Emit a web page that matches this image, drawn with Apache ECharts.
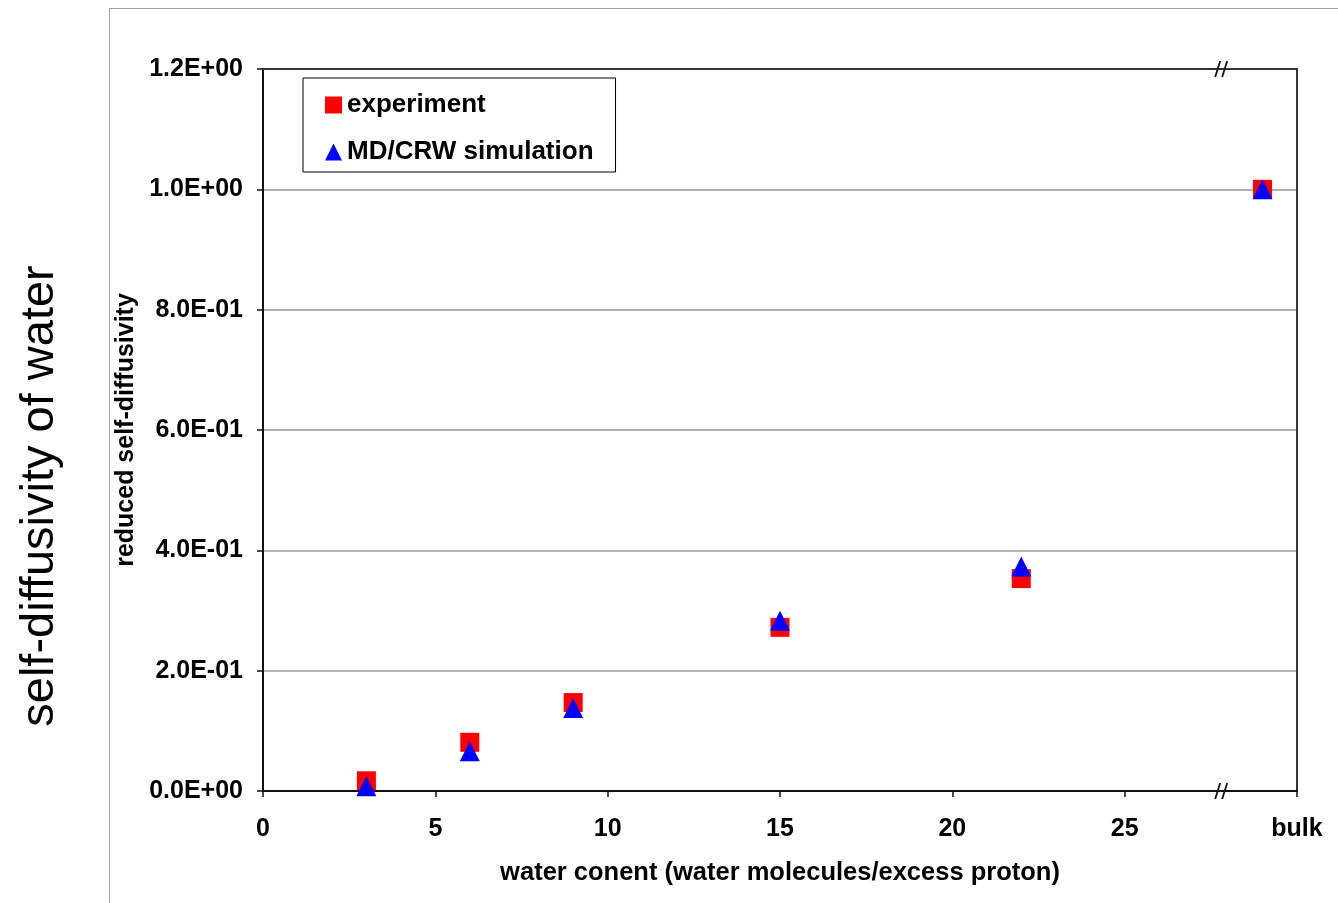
<!DOCTYPE html>
<html>
<head>
<meta charset="utf-8">
<script src="https://cdn.jsdelivr.net/npm/echarts@6/dist/echarts.min.js"></script>
<style>
html,body{margin:0;padding:0;background:#fff;}
#c{width:1338px;height:903px;}
</style>
</head>
<body>
<div id="c"></div>
<script>
// ---- data ----
const waterContent = [3, 6, 9, 15, 22, 29];          // 29 = "bulk" position
const experiment   = [0.017, 0.081, 0.147, 0.272, 0.353, 1.0];
const simulation   = [0.008, 0.066, 0.138, 0.283, 0.373, 1.0];
const xTickValues  = [0, 5, 10, 15, 20, 25, 30];
const xTickLabels  = ['0', '5', '10', '15', '20', '25', 'bulk'];
const seriesNames  = ['experiment', 'MD/CRW simulation'];
const xAxisTitle   = 'water conent (water molecules/excess proton)';
const yAxisTitle   = 'reduced self-diffusivity';
const sideTitle    = 'self-diffusivity of water';
const breakAt      = 27.8;

const FONT = '"Liberation Sans", Arial, sans-serif';

function sci(v) {
  if (Math.abs(v) < 1e-12) return '0.0E+00';
  let e = Math.floor(Math.log10(v) + 1e-9);
  let m = v / Math.pow(10, e);
  if (m >= 9.95) { m /= 10; e += 1; }
  return m.toFixed(1) + 'E' + (e < 0 ? '-' : '+') + String(Math.abs(e)).padStart(2, '0');
}

const chart = echarts.init(document.getElementById('c'), null, {renderer: 'canvas'});

const labelStyle = {color: '#000', fontFamily: FONT, fontWeight: 'bold', fontSize: 25};

chart.setOption({
  animation: false,
  backgroundColor: '#fff',
  grid: {left: 263, right: 41, top: 69, bottom: 112, containLabel: false},
  legend: {
    orient: 'vertical',
    left: 303, top: 78,
    borderColor: '#000', borderWidth: 1,
    padding: [14, 22, 7, 22],
    itemGap: 21,
    itemWidth: 17, itemHeight: 17,
    backgroundColor: '#fff',
    textStyle: {color: '#000', fontFamily: FONT, fontWeight: 'bold', fontSize: 26},
    data: [
      {name: seriesNames[0], icon: 'rect'},
      {name: seriesNames[1], icon: 'triangle'}
    ]
  },
  xAxis: [{
    type: 'value', min: 0, max: 30, interval: 5, position: 'bottom',
    axisLine: {show: true, onZero: false, lineStyle: {color: '#111', width: 2}},
    axisTick: {show: true, inside: false, length: 6, lineStyle: {color: '#111', width: 1.5}},
    axisLabel: {
      margin: 26, ...labelStyle,
      formatter: v => { const i = xTickValues.indexOf(v); return i >= 0 ? xTickLabels[i] : ''; }
    },
    splitLine: {show: false},
    name: xAxisTitle, nameLocation: 'middle', nameGap: 69,
    nameTextStyle: {color: '#000', fontFamily: FONT, fontWeight: 'bold', fontSize: 25.5}
  }, {
    type: 'value', min: 0, max: 30, interval: 5, position: 'top',
    axisLine: {show: true, onZero: false, lineStyle: {color: '#333', width: 2}},
    axisTick: {show: false}, axisLabel: {show: false}, splitLine: {show: false}
  }],
  yAxis: [{
    type: 'value', min: 0, max: 1.2, interval: 0.2, position: 'left',
    axisLine: {show: true, onZero: false, lineStyle: {color: '#111', width: 2}},
    axisTick: {show: true, inside: false, length: 6, lineStyle: {color: '#111', width: 1.5}},
    axisLabel: {margin: 20, ...labelStyle, formatter: sci},
    splitLine: {show: true, lineStyle: {color: '#999', width: 1.5}},
    name: yAxisTitle, nameLocation: 'middle', nameGap: 112, nameRotate: 90,
    nameTextStyle: {color: '#000', fontFamily: FONT, fontWeight: 'bold', fontSize: 25}
  }, {
    type: 'value', min: 0, max: 1.2, interval: 0.2, position: 'right',
    axisLine: {show: true, onZero: false, lineStyle: {color: '#333', width: 2}},
    axisTick: {show: false}, axisLabel: {show: false}, splitLine: {show: false}
  }],
  series: [{
    name: seriesNames[0], type: 'scatter', symbol: 'rect', symbolSize: 19,
    itemStyle: {color: '#ff0000', opacity: 1},
    data: waterContent.map((x, i) => [x, experiment[i]]),
    z: 3
  }, {
    name: seriesNames[1], type: 'scatter', symbol: 'triangle', symbolSize: [20, 20],
    itemStyle: {color: '#0000ff', opacity: 1},
    data: waterContent.map((x, i) => [x, simulation[i]]),
    z: 4
  }]
});

function drawExtras() {
  const pb = chart.convertToPixel({xAxisIndex: 0, yAxisIndex: 0}, [breakAt, 0]);
  const pt = chart.convertToPixel({xAxisIndex: 0, yAxisIndex: 0}, [breakAt, 1.2]);
  const brk = (cx, cy, id) => [0, 7].map((dx, k) => ({
    type: 'line', id: id + k, z: 100,
    shape: {x1: cx - 6 + dx, y1: cy + 8, x2: cx - 1 + dx, y2: cy - 8},
    style: {stroke: '#111', lineWidth: 1.8}
  }));
  chart.setOption({
    graphic: [
      {type: 'line', id: 'fl', shape: {x1: 109.5, y1: 8, x2: 109.5, y2: 903}, style: {stroke: '#a0a0a0', lineWidth: 1}},
      {type: 'line', id: 'ft', shape: {x1: 109, y1: 8.5, x2: 1338, y2: 8.5}, style: {stroke: '#a0a0a0', lineWidth: 1}},
      {type: 'text', id: 'side', x: 40, y: 496, rotation: Math.PI / 2,
       style: {text: sideTitle, fill: '#000', font: '47px ' + FONT, align: 'center', verticalAlign: 'middle'}},
      ...brk(pb[0], pb[1], 'bb'),
      ...brk(pt[0], pt[1], 'bt')
    ]
  });
}
drawExtras();
</script>
</body>
</html>
